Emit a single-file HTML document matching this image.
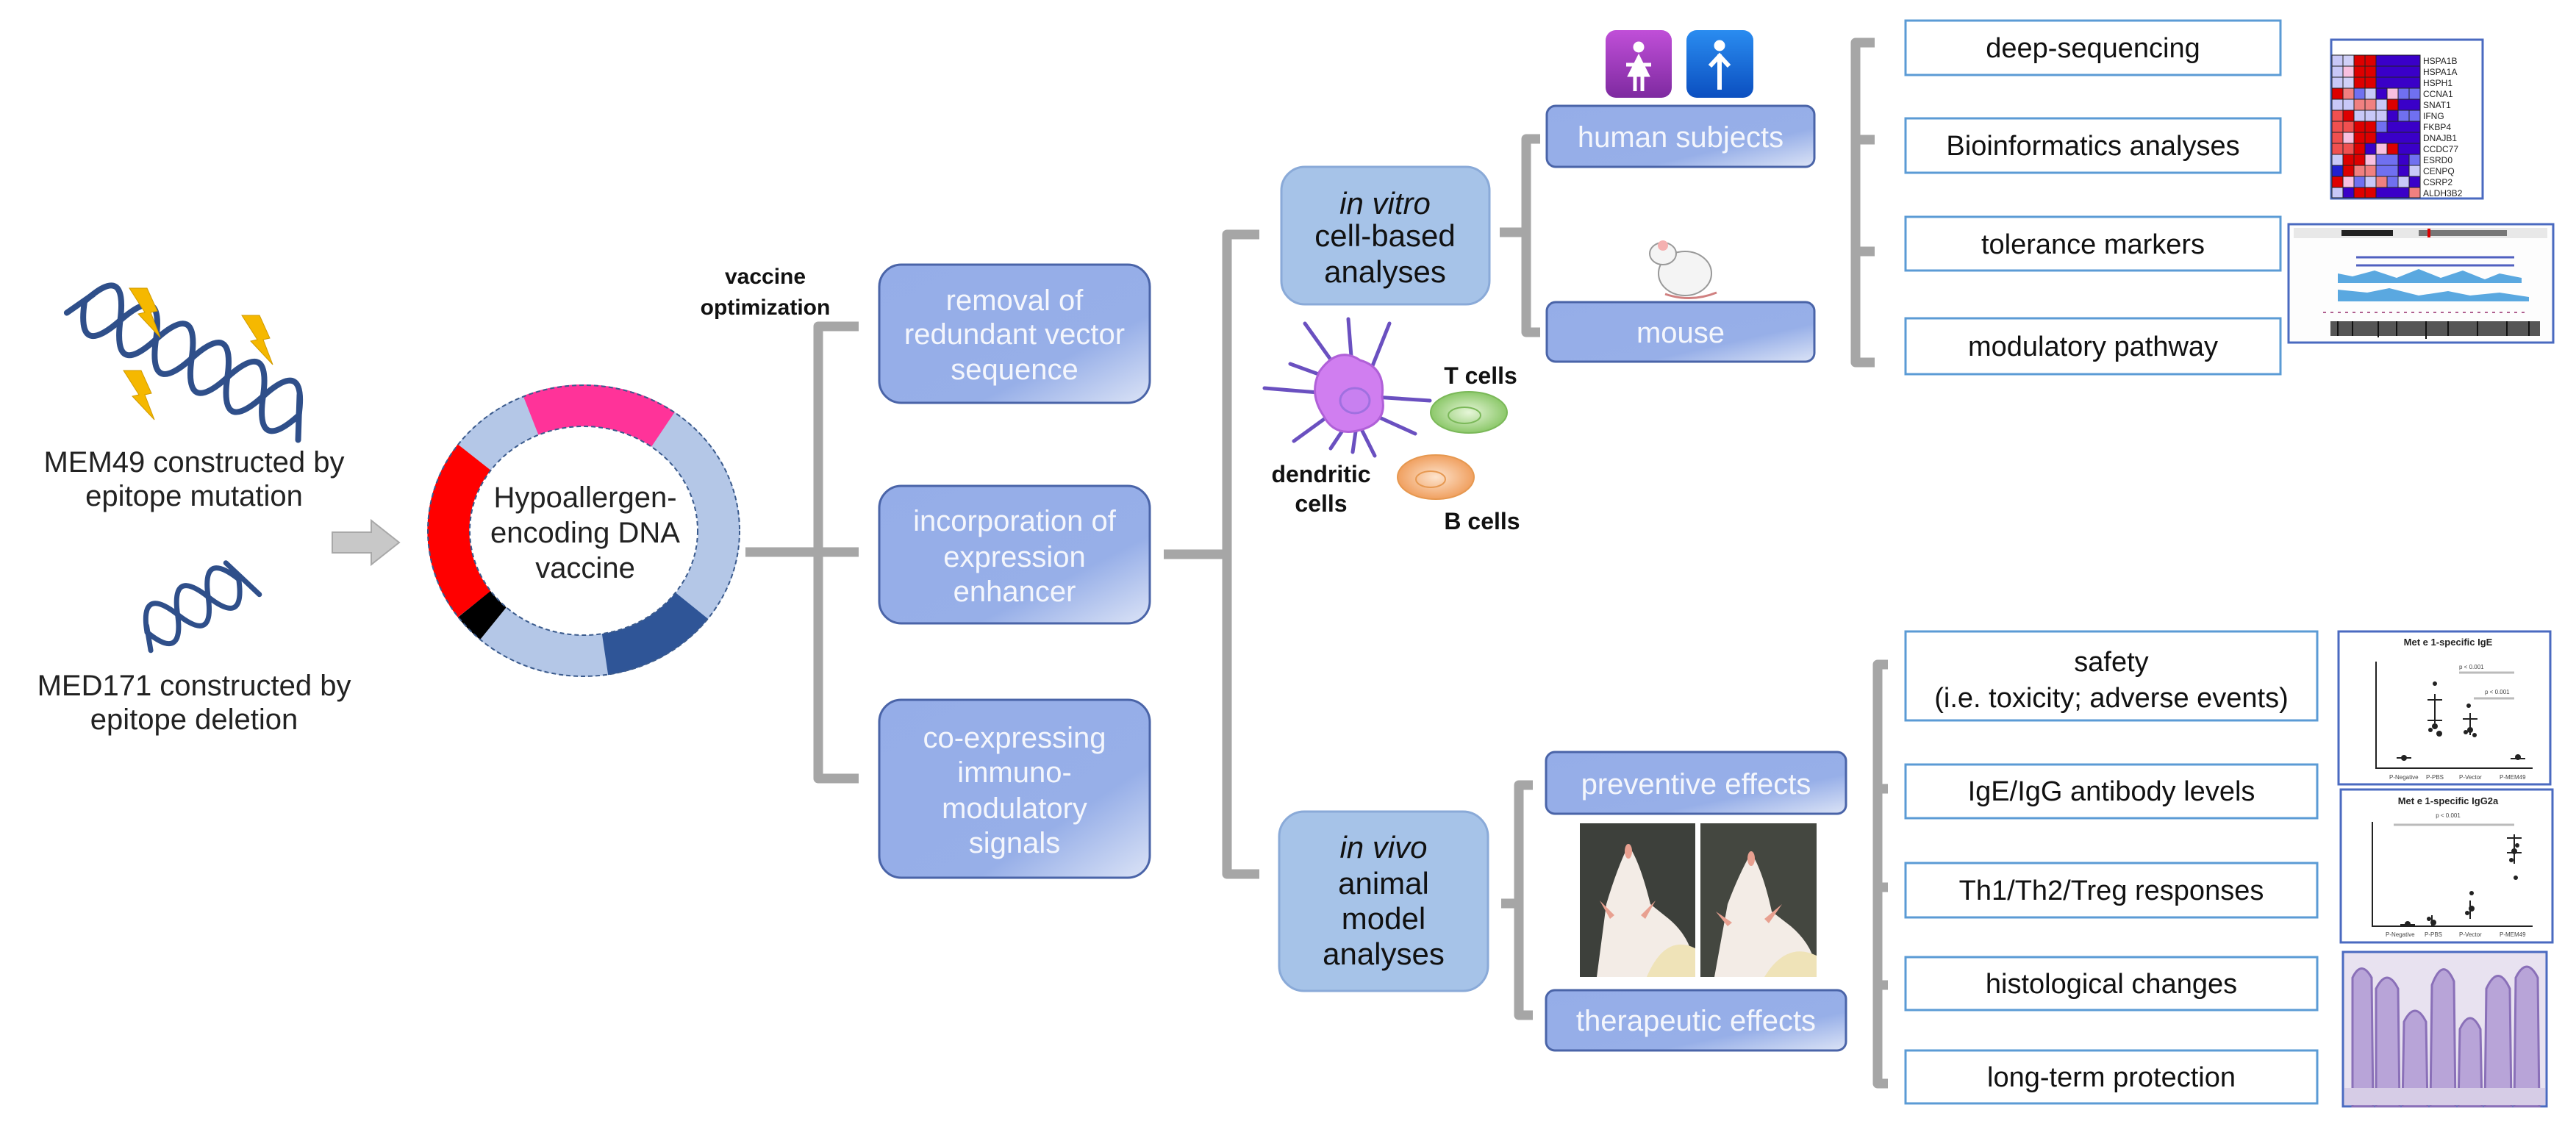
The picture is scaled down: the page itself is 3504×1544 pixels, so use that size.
<!DOCTYPE html>
<html><head><meta charset="utf-8"><style>html,body{margin:0;padding:0;background:#fff}svg{display:block}</style></head><body>
<svg width="3504" height="1544" viewBox="0 0 3504 1544" xmlns="http://www.w3.org/2000/svg" font-family="'Liberation Sans', Arial, sans-serif">
<defs>
<linearGradient id="bg" x1="0" y1="0" x2="1" y2="1"><stop offset="0" stop-color="#95ade8"/><stop offset="0.68" stop-color="#97afe8"/><stop offset="1" stop-color="#dbe3f6"/></linearGradient>
<linearGradient id="pg" x1="0" y1="0" x2="0" y2="1"><stop offset="0" stop-color="#c04fd8"/><stop offset="1" stop-color="#7e2aa0"/></linearGradient>
<linearGradient id="bl" x1="0" y1="0" x2="0" y2="1"><stop offset="0" stop-color="#2a8cf0"/><stop offset="1" stop-color="#0b4fc0"/></linearGradient>
<radialGradient id="gc"><stop offset="0" stop-color="#e6f6d8"/><stop offset="1" stop-color="#8cc86a"/></radialGradient>
<radialGradient id="oc"><stop offset="0" stop-color="#fde3cc"/><stop offset="1" stop-color="#f0a060"/></radialGradient>
<polygon id="bolt" points="-19,-32 5,-32 19,-1 10,1 23,35 -7,3 2,1" fill="#f5b800" stroke="#d09a00" stroke-width="1"/>
</defs>

<!-- DNA 1 -->
<g transform="translate(115,410) rotate(28)" fill="none" stroke="#2f4f8a" stroke-width="8" stroke-linecap="round">
<path d="M0,0 C18,-50 36,-50 55,0 S92,50 110,0 S147,-50 165,0 S202,50 220,0 S257,-50 275,0 S312,50 330,0"/>
<path d="M0,0 C18,50 36,50 55,0 S92,-50 110,0 S147,50 165,0 S202,-50 220,0 S257,50 275,0 S312,-50 330,0"/>
<path d="M-14,25 L6,-14 M318,-25 L345,30"/>
</g>
<use href="#bolt" x="195" y="424"/>
<use href="#bolt" x="348" y="461"/>
<use href="#bolt" x="187" y="536"/>
<text x="264" y="642" font-size="40" text-anchor="middle" fill="#222">MEM49 constructed by</text>
<text x="264" y="688" font-size="40" text-anchor="middle" fill="#222">epitope mutation</text>

<!-- DNA 2 -->
<g transform="translate(200,860) rotate(-30)" fill="none" stroke="#2f4f8a" stroke-width="7" stroke-linecap="round">
<path d="M0,0 C15,-40 32,-40 48,0 S80,40 96,0 S128,-40 144,0"/>
<path d="M0,0 C15,40 32,40 48,0 S80,-40 96,0 S128,40 144,0"/>
<path d="M-8,24 L4,-8 M140,-28 L158,32"/>
</g>
<text x="264" y="946" font-size="40" text-anchor="middle" fill="#222">MED171 constructed by</text>
<text x="264" y="992" font-size="40" text-anchor="middle" fill="#222">epitope deletion</text>

<!-- arrow -->
<polygon points="452,724 505,724 505,708 543,738 505,768 505,752 452,752" fill="#c8c8c8" stroke="#a8a8a8" stroke-width="2"/>

<!-- plasmid -->
<ellipse cx="794" cy="722" rx="184" ry="170" fill="none" stroke="#b4c7e7" stroke-width="57"/>
<path d="M722,565 A184,170 0 0 1 902,584" fill="none" stroke="#ff3399" stroke-width="57"/>
<path d="M645,822 A184,170 0 0 1 645,622" fill="none" stroke="#ff0000" stroke-width="57"/>
<path d="M671,848 A184,170 0 0 1 645,822" fill="none" stroke="#000" stroke-width="57"/>
<path d="M941,824 A184,170 0 0 1 823,890" fill="none" stroke="#2f5597" stroke-width="57"/>
<ellipse cx="794" cy="722" rx="212" ry="198" fill="none" stroke="#3a5a8c" stroke-width="2" stroke-dasharray="6,4"/>
<ellipse cx="794" cy="722" rx="155" ry="142" fill="#fff" stroke="#3a5a8c" stroke-width="2" stroke-dasharray="6,4"/>
<text font-size="40" text-anchor="middle" fill="#222"><tspan x="796" y="690">Hypoallergen-</tspan><tspan x="796" y="738">encoding DNA</tspan><tspan x="796" y="786">vaccine</tspan></text>

<text font-size="30" font-weight="bold" text-anchor="middle" fill="#111"><tspan x="1041" y="386">vaccine</tspan><tspan x="1041" y="428">optimization</tspan></text>

<!-- brackets -->
<g fill="none" stroke="#a6a6a6" stroke-width="13" stroke-linejoin="round">
<path d="M1168,444 L1113,444 L1113,1059 L1168,1059 M1014,751 L1168,751"/>
<path d="M1713,319 L1669,319 L1669,1189 L1713,1189 M1583,754 L1669,754"/>
<path d="M2095,189 L2076,189 L2076,452 L2095,452 M2040,316 L2076,316"/>
<path d="M2550,58 L2524,58 L2524,493 L2550,493 M2524,190 L2550,190 M2524,342 L2550,342"/>
<path d="M2085,1068 L2066,1068 L2066,1381 L2085,1381 M2042,1229 L2066,1229"/>
<path d="M2568,904 L2554,904 L2554,1474 L2568,1474 M2554,1073 L2568,1073 M2554,1207 L2568,1207 M2554,1340 L2568,1340"/>
</g>

<!-- optimization boxes -->
<g stroke="#4a64a8" stroke-width="3" fill="url(#bg)">
<rect x="1196" y="360" width="368" height="188" rx="30"/>
<rect x="1196" y="661" width="368" height="187" rx="30"/>
<rect x="1196" y="952" width="368" height="242" rx="30"/>
</g>
<g font-size="40" text-anchor="middle" fill="#f4f6fc">
<text x="1380" y="422">removal of</text><text x="1380" y="468">redundant vector</text><text x="1380" y="516">sequence</text>
<text x="1380" y="722">incorporation of</text><text x="1380" y="771">expression</text><text x="1380" y="818">enhancer</text>
<text x="1380" y="1017">co-expressing</text><text x="1380" y="1064">immuno-</text><text x="1380" y="1113">modulatory</text><text x="1380" y="1160">signals</text>
</g>

<!-- in vitro / in vivo -->
<rect x="1743" y="227" width="283" height="187" rx="32" fill="#a6c3e8" stroke="#8aaad8" stroke-width="3"/>
<text font-size="42" text-anchor="middle" fill="#111"><tspan x="1884" y="291" font-style="italic">in vitro</tspan><tspan x="1884" y="335">cell-based</tspan><tspan x="1884" y="384">analyses</tspan></text>
<rect x="1740" y="1104" width="284" height="244" rx="34" fill="#a6c3e8" stroke="#8aaad8" stroke-width="3"/>
<text font-size="42" text-anchor="middle" fill="#111"><tspan x="1882" y="1167" font-style="italic">in vivo</tspan><tspan x="1882" y="1216">animal</tspan><tspan x="1882" y="1264">model</tspan><tspan x="1882" y="1312">analyses</tspan></text>

<!-- second level boxes -->
<g stroke="#4a64a8" stroke-width="3" fill="url(#bg)">
<rect x="2104" y="144" width="364" height="83" rx="12"/>
<rect x="2104" y="411" width="364" height="81" rx="12"/>
<rect x="2103" y="1023" width="408" height="84" rx="12"/>
<rect x="2103" y="1347" width="408" height="82" rx="12"/>
</g>
<g font-size="40" text-anchor="middle" fill="#f4f6fc">
<text x="2286" y="200">human subjects</text>
<text x="2286" y="466">mouse</text>
<text x="2307" y="1080">preventive effects</text>
<text x="2307" y="1402">therapeutic effects</text>
</g>

<!-- person icons -->
<rect x="2184" y="41" width="90" height="92" rx="14" fill="url(#pg)"/>
<rect x="2294" y="41" width="91" height="92" rx="14" fill="url(#bl)"/>
<g fill="#fff" stroke="#fff">
<circle cx="2229" cy="64" r="7"/><polygon points="2229,74 2244,104 2214,104"/><path d="M2224,104 L2224,124 M2234,104 L2234,124 M2212,88 L2246,88" stroke-width="5"/>
<circle cx="2339" cy="62" r="7"/><path d="M2339,74 L2339,122 M2326,90 L2339,76 L2352,90" stroke-width="6" fill="none"/>
</g>

<!-- mouse emoji -->
<g>
<ellipse cx="2292" cy="372" rx="36" ry="30" fill="#f4f4f4" stroke="#999" stroke-width="2"/>
<ellipse cx="2262" cy="345" rx="18" ry="15" fill="#f4f4f4" stroke="#999" stroke-width="2"/>
<circle cx="2262" cy="334" r="7" fill="#f4b0b0"/>
<path d="M2265,400 Q2300,412 2335,398" fill="none" stroke="#d08080" stroke-width="3"/>
</g>

<!-- dendritic cell -->
<g stroke="#6a50c0" stroke-width="5" fill="none" stroke-linecap="round">
<path d="M1832,520 L1775,440 M1840,510 L1834,434 M1860,515 L1890,440 M1870,540 L1945,545 M1870,565 L1925,590 M1850,580 L1870,620 M1830,580 L1810,610 M1815,560 L1760,600 M1805,535 L1720,528 M1810,515 L1755,495 M1845,580 L1840,615"/>
</g>
<path d="M1795,505 Q1820,470 1850,490 Q1885,500 1880,540 Q1888,575 1850,585 Q1815,595 1800,565 Q1780,535 1795,505 Z" fill="#d07ef0" stroke="#b060d8" stroke-width="3"/>
<ellipse cx="1843" cy="545" rx="20" ry="17" fill="#c880f0" stroke="#a070e0" stroke-width="3"/>
<ellipse cx="1998" cy="561" rx="52" ry="28" fill="url(#gc)" stroke="#7ab858" stroke-width="2"/>
<ellipse cx="1992" cy="565" rx="22" ry="11" fill="none" stroke="#7ab858" stroke-width="2"/>
<ellipse cx="1953" cy="649" rx="52" ry="30" fill="url(#oc)" stroke="#e69850" stroke-width="2"/>
<ellipse cx="1946" cy="652" rx="20" ry="11" fill="none" stroke="#e69850" stroke-width="2"/>
<g font-size="32" font-weight="bold" text-anchor="middle" fill="#111">
<text x="2014" y="522">T cells</text><text x="1797" y="656">dendritic</text><text x="1797" y="696">cells</text><text x="2016" y="720">B cells</text>
</g>

<!-- right boxes -->
<g fill="#fff" stroke="#5b9bd5" stroke-width="3">
<rect x="2592" y="28" width="510" height="74"/><rect x="2592" y="161" width="510" height="74"/><rect x="2592" y="295" width="510" height="73"/><rect x="2592" y="433" width="510" height="76"/>
<rect x="2592" y="859" width="560" height="121"/><rect x="2592" y="1040" width="560" height="73"/><rect x="2592" y="1174" width="560" height="74"/><rect x="2592" y="1302" width="560" height="72"/><rect x="2592" y="1429" width="560" height="72"/>
</g>
<g font-size="38" text-anchor="middle" fill="#111">
<text x="2847" y="78">deep-sequencing</text><text x="2847" y="211">Bioinformatics analyses</text><text x="2847" y="345">tolerance markers</text><text x="2847" y="484">modulatory pathway</text>
<text x="2872" y="913">safety</text><text x="2872" y="962">(i.e. toxicity; adverse events)</text><text x="2872" y="1089">IgE/IgG antibody levels</text><text x="2872" y="1224">Th1/Th2/Treg responses</text><text x="2872" y="1351">histological changes</text><text x="2872" y="1478">long-term protection</text>
</g>

<!-- heatmap -->
<rect x="3171" y="54" width="206" height="216" fill="#fff" stroke="#4a6ac0" stroke-width="3"/>
<g stroke="#222" stroke-width="1">
<g transform="translate(3172,75)">
<rect x="0" y="0" width="15" height="15" fill="#c8c8f8"/><rect x="15" y="0" width="15" height="15" fill="#d0d0f8"/><rect x="30" y="0" width="15" height="15" fill="#dd0000"/><rect x="45" y="0" width="15" height="15" fill="#dd0000"/><rect x="60" y="0" width="60" height="15" fill="#3a00c8"/>
<rect x="0" y="15" width="15" height="15" fill="#c8c8f8"/><rect x="15" y="15" width="15" height="15" fill="#f8c0e0"/><rect x="30" y="15" width="15" height="15" fill="#dd0000"/><rect x="45" y="15" width="15" height="15" fill="#dd0000"/><rect x="60" y="15" width="60" height="15" fill="#3a00c8"/>
<rect x="0" y="30" width="15" height="15" fill="#c8c8f8"/><rect x="15" y="30" width="15" height="15" fill="#d0d0f8"/><rect x="30" y="30" width="15" height="15" fill="#dd0000"/><rect x="45" y="30" width="15" height="15" fill="#dd0000"/><rect x="60" y="30" width="60" height="15" fill="#3a00c8"/>
<rect x="0" y="45" width="15" height="15" fill="#dd0000"/><rect x="15" y="45" width="15" height="15" fill="#f08080"/><rect x="30" y="45" width="15" height="15" fill="#7070f0"/><rect x="45" y="45" width="15" height="15" fill="#c8c8f8"/><rect x="60" y="45" width="15" height="15" fill="#3a00c8"/><rect x="75" y="45" width="15" height="15" fill="#f8c0e0"/><rect x="90" y="45" width="15" height="15" fill="#7070f0"/><rect x="105" y="45" width="15" height="15" fill="#7070f0"/>
<rect x="0" y="60" width="15" height="15" fill="#c8c8f8"/><rect x="15" y="60" width="15" height="15" fill="#c8c8f8"/><rect x="30" y="60" width="15" height="15" fill="#f08080"/><rect x="45" y="60" width="15" height="15" fill="#f08080"/><rect x="60" y="60" width="15" height="15" fill="#c8c8f8"/><rect x="75" y="60" width="15" height="15" fill="#dd0000"/><rect x="90" y="60" width="30" height="15" fill="#3a00c8"/>
<rect x="0" y="75" width="15" height="15" fill="#f05050"/><rect x="15" y="75" width="15" height="15" fill="#dd0000"/><rect x="30" y="75" width="15" height="15" fill="#c8c8f8"/><rect x="45" y="75" width="15" height="15" fill="#c8c8f8"/><rect x="60" y="75" width="15" height="15" fill="#c8c8f8"/><rect x="75" y="75" width="15" height="15" fill="#3a00c8"/><rect x="90" y="75" width="15" height="15" fill="#7070f0"/><rect x="105" y="75" width="15" height="15" fill="#7070f0"/>
<rect x="0" y="90" width="15" height="15" fill="#f05050"/><rect x="15" y="90" width="15" height="15" fill="#f05050"/><rect x="30" y="90" width="15" height="15" fill="#dd0000"/><rect x="45" y="90" width="15" height="15" fill="#dd0000"/><rect x="60" y="90" width="15" height="15" fill="#7070f0"/><rect x="75" y="90" width="45" height="15" fill="#3a00c8"/>
<rect x="0" y="105" width="15" height="15" fill="#f05050"/><rect x="15" y="105" width="15" height="15" fill="#f8c0e0"/><rect x="30" y="105" width="15" height="15" fill="#dd0000"/><rect x="45" y="105" width="15" height="15" fill="#dd0000"/><rect x="60" y="105" width="60" height="15" fill="#3a00c8"/>
<rect x="0" y="120" width="15" height="15" fill="#f05050"/><rect x="15" y="120" width="15" height="15" fill="#f05050"/><rect x="30" y="120" width="15" height="15" fill="#dd0000"/><rect x="45" y="120" width="15" height="15" fill="#3a00c8"/><rect x="60" y="120" width="15" height="15" fill="#f8c0e0"/><rect x="75" y="120" width="15" height="15" fill="#dd0000"/><rect x="90" y="120" width="30" height="15" fill="#3a00c8"/>
<rect x="0" y="135" width="15" height="15" fill="#c8c8f8"/><rect x="15" y="135" width="15" height="15" fill="#dd0000"/><rect x="30" y="135" width="15" height="15" fill="#dd0000"/><rect x="45" y="135" width="15" height="15" fill="#f8c0e0"/><rect x="60" y="135" width="30" height="15" fill="#7070f0"/><rect x="90" y="135" width="15" height="15" fill="#3a00c8"/><rect x="105" y="135" width="15" height="15" fill="#7070f0"/>
<rect x="0" y="150" width="15" height="15" fill="#2020d0"/><rect x="15" y="150" width="15" height="15" fill="#dd0000"/><rect x="30" y="150" width="15" height="15" fill="#f08080"/><rect x="45" y="150" width="15" height="15" fill="#f08080"/><rect x="60" y="150" width="30" height="15" fill="#7070f0"/><rect x="90" y="150" width="15" height="15" fill="#3a00c8"/><rect x="105" y="150" width="15" height="15" fill="#c8c8f8"/>
<rect x="0" y="165" width="15" height="15" fill="#dd0000"/><rect x="15" y="165" width="15" height="15" fill="#f8c0e0"/><rect x="30" y="165" width="15" height="15" fill="#7070f0"/><rect x="45" y="165" width="15" height="15" fill="#c8c8f8"/><rect x="60" y="165" width="15" height="15" fill="#f08080"/><rect x="75" y="165" width="15" height="15" fill="#7070f0"/><rect x="90" y="165" width="15" height="15" fill="#c8c8f8"/><rect x="105" y="165" width="15" height="15" fill="#3a00c8"/>
<rect x="0" y="180" width="15" height="14" fill="#c8c8f8"/><rect x="15" y="180" width="15" height="14" fill="#3a00c8"/><rect x="30" y="180" width="15" height="14" fill="#dd0000"/><rect x="45" y="180" width="15" height="14" fill="#dd0000"/><rect x="60" y="180" width="45" height="14" fill="#3a00c8"/><rect x="105" y="180" width="15" height="14" fill="#f08080"/>
</g>
</g>
<g font-size="12" fill="#222" font-family="'Liberation Sans Narrow','Liberation Sans',sans-serif">
<text x="3296" y="87">HSPA1B</text><text x="3296" y="102">HSPA1A</text><text x="3296" y="117">HSPH1</text><text x="3296" y="132">CCNA1</text><text x="3296" y="147">SNAT1</text><text x="3296" y="162">IFNG</text><text x="3296" y="177">FKBP4</text><text x="3296" y="192">DNAJB1</text><text x="3296" y="207">CCDC77</text><text x="3296" y="222">ESRD0</text><text x="3296" y="237">CENPQ</text><text x="3296" y="252">CSRP2</text><text x="3296" y="267">ALDH3B2</text>
</g>

<!-- genome browser -->
<rect x="3113" y="305" width="360" height="161" fill="#fdfdfd" stroke="#4a6ac0" stroke-width="3"/>
<rect x="3120" y="310" width="345" height="14" fill="#e8e8e8"/>
<rect x="3185" y="313" width="70" height="8" fill="#222"/><rect x="3290" y="313" width="120" height="8" fill="#777"/><rect x="3302" y="311" width="4" height="12" fill="#d00"/>
<g stroke="#5060c0" stroke-width="3"><path d="M3205,350 L3420,350 M3205,361 L3420,361"/></g>
<g fill="#5aa8e0"><path d="M3180,385 L3430,385 L3430,378 L3400,372 L3380,380 L3350,368 L3320,378 L3290,366 L3260,378 L3230,368 L3200,376 L3180,372 Z"/><path d="M3180,410 L3440,410 L3440,404 L3400,398 L3360,402 L3330,396 L3290,402 L3250,392 L3220,398 L3180,394 Z"/></g>
<path d="M3160,425 L3440,425" stroke="#b06090" stroke-width="2" stroke-dasharray="4,6"/>
<rect x="3170" y="437" width="285" height="20" fill="#555"/>
<g stroke="#111" stroke-width="2"><path d="M3180,437 v20 M3200,437 v20 M3235,437 v22 M3260,437 v20 M3300,437 v24 M3330,437 v20 M3370,437 v20 M3410,437 v20 M3440,437 v20"/></g>

<!-- chart 1 -->
<rect x="3181" y="859" width="288" height="208" fill="#fff" stroke="#4a6ac0" stroke-width="3"/>
<text x="3330" y="878" font-size="13" font-weight="bold" text-anchor="middle" fill="#222">Met e 1-specific IgE</text>
<g stroke="#222" stroke-width="2" fill="none"><path d="M3232,900 L3232,1045 L3445,1045"/><path d="M3345,915 L3420,915 M3365,950 L3420,950" stroke="#bbb" stroke-width="3"/>
<path d="M3260,1031 h20 M3312,944 v40 M3302,952 h20 M3302,980 h20 M3360,970 v30 M3350,978 h20 M3415,1032 h20"/></g>
<g fill="#222"><circle cx="3270" cy="1031" r="4"/><circle cx="3312" cy="988" r="4"/><circle cx="3318" cy="998" r="4"/><circle cx="3306" cy="993" r="3"/><circle cx="3312" cy="930" r="3"/><circle cx="3360" cy="993" r="4"/><circle cx="3366" cy="1000" r="3"/><circle cx="3354" cy="996" r="3"/><circle cx="3358" cy="960" r="3"/><circle cx="3425" cy="1030" r="4"/></g>
<g font-size="8" fill="#444"><text x="3345" y="910">p &lt; 0.001</text><text x="3380" y="944">p &lt; 0.001</text><text x="3250" y="1060">P-Negative</text><text x="3300" y="1060">P-PBS</text><text x="3345" y="1060">P-Vector</text><text x="3400" y="1060">P-MEM49</text></g>

<!-- chart 2 -->
<rect x="3184" y="1074" width="288" height="208" fill="#fff" stroke="#4a6ac0" stroke-width="3"/>
<text x="3330" y="1094" font-size="13" font-weight="bold" text-anchor="middle" fill="#222">Met e 1-specific IgG2a</text>
<text x="3330" y="1112" font-size="8" text-anchor="middle" fill="#444">p &lt; 0.001</text>
<g stroke="#222" stroke-width="2" fill="none"><path d="M3227,1118 L3227,1260 L3445,1260"/><path d="M3256,1122 L3420,1122" stroke="#bbb" stroke-width="3"/>
<path d="M3420,1135 v40 M3410,1140 h20 M3410,1160 h20 M3265,1258 h20 M3308,1245 v15 M3360,1225 v25"/></g>
<g fill="#222"><circle cx="3420" cy="1158" r="4"/><circle cx="3424" cy="1150" r="3"/><circle cx="3416" cy="1170" r="3"/><circle cx="3422" cy="1194" r="3"/><circle cx="3310" cy="1255" r="4"/><circle cx="3304" cy="1250" r="3"/><circle cx="3362" cy="1236" r="4"/><circle cx="3356" cy="1242" r="3"/><circle cx="3362" cy="1215" r="3"/><circle cx="3275" cy="1257" r="4"/></g>
<g font-size="8" fill="#444"><text x="3245" y="1274">P-Negative</text><text x="3298" y="1274">P-PBS</text><text x="3345" y="1274">P-Vector</text><text x="3400" y="1274">P-MEM49</text></g>

<!-- histology -->
<rect x="3187" y="1295" width="277" height="210" fill="#e8e2f0" stroke="#4a6ac0" stroke-width="3"/>
<g fill="#b8a4d8" stroke="#8a70b8" stroke-width="3">
<path d="M3200,1505 L3200,1330 Q3212,1305 3226,1330 L3228,1505 Z"/>
<path d="M3232,1505 L3232,1345 Q3247,1315 3262,1345 L3264,1505 Z"/>
<path d="M3268,1505 L3270,1390 Q3285,1360 3300,1390 L3302,1505 Z"/>
<path d="M3306,1505 L3308,1340 Q3323,1300 3338,1335 L3340,1505 Z"/>
<path d="M3344,1505 L3346,1400 Q3360,1370 3374,1400 L3376,1505 Z"/>
<path d="M3380,1505 L3382,1345 Q3398,1310 3414,1345 L3416,1505 Z"/>
<path d="M3420,1505 L3422,1330 Q3437,1300 3452,1330 L3454,1505 Z"/>
</g>
<rect x="3189" y="1480" width="273" height="23" fill="#d6cce6"/>

<!-- mouse photos -->
<rect x="2149" y="1120" width="157" height="209" fill="#3d403b"/>
<rect x="2313" y="1120" width="158" height="209" fill="#444740"/>
<g fill="#f3ece6">
<path d="M2172,1329 L2185,1230 Q2200,1180 2215,1150 Q2230,1170 2245,1230 L2270,1250 Q2306,1280 2306,1329 Z"/>
<path d="M2332,1329 L2350,1230 Q2365,1190 2382,1160 Q2398,1185 2410,1240 L2436,1260 Q2471,1290 2471,1329 Z"/>
</g>
<g fill="#e8a090"><path d="M2176,1225 L2196,1245 L2190,1250 Z"/><path d="M2252,1225 L2232,1245 L2238,1250 Z"/><path d="M2334,1240 L2356,1255 L2350,1260 Z"/><path d="M2424,1230 L2400,1250 L2406,1256 Z"/><ellipse cx="2215" cy="1158" rx="5" ry="10"/><ellipse cx="2382" cy="1168" rx="5" ry="10"/></g>
<g fill="#efe3b8"><path d="M2240,1329 Q2265,1270 2306,1290 L2306,1329 Z"/><path d="M2400,1329 Q2430,1280 2471,1300 L2471,1329 Z"/></g>
</svg>
</body></html>
